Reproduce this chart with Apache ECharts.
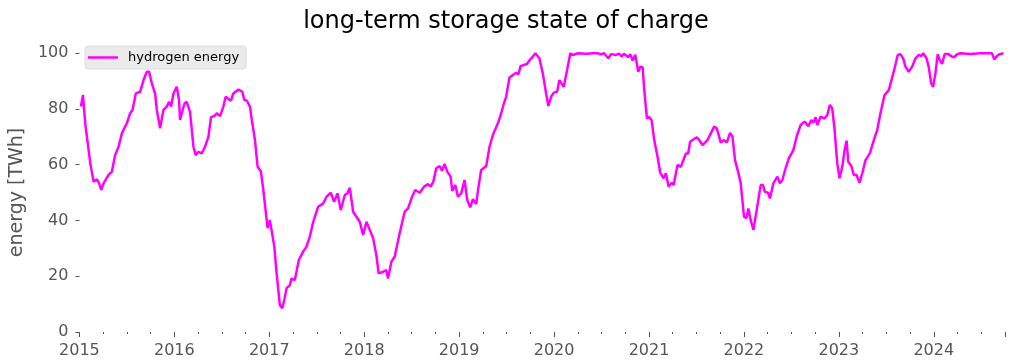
<!DOCTYPE html>
<html>
<head>
<meta charset="utf-8">
<script src="https://cdn.jsdelivr.net/npm/echarts@6/dist/echarts.min.js"></script>
<style>
html,body{margin:0;padding:0;background:#fff;}
#chart{width:1012px;height:364px;}
</style>
</head>
<body>
<div id="chart"></div>
<script>
// time as fractional years
const timeYears = [
2015.016,2015.037,2015.061,2015.114,2015.149,2015.184,2015.208,2015.229,2015.254,2015.307,
2015.342,2015.376,2015.412,2015.447,2015.499,2015.534,2015.559,2015.594,2015.639,2015.675,
2015.710,2015.734,2015.762,2015.797,2015.815,2015.850,2015.885,2015.920,2015.944,2015.965,
2015.991,2016.025,2016.049,2016.060,2016.078,2016.106,2016.130,2016.165,2016.201,2016.225,
2016.253,2016.288,2016.323,2016.359,2016.386,2016.422,2016.446,2016.481,2016.516,2016.540,
2016.561,2016.596,2016.621,2016.674,2016.716,2016.737,2016.764,2016.796,2016.821,2016.849,
2016.877,2016.912,2016.937,2016.961,2016.982,2017.006,2017.024,2017.053,2017.077,2017.111,
2017.137,2017.158,2017.182,2017.217,2017.234,2017.269,2017.311,2017.357,2017.392,2017.427,
2017.463,2017.515,2017.568,2017.603,2017.648,2017.683,2017.718,2017.753,2017.795,2017.823,
2017.848,2017.883,2017.918,2017.953,2017.988,2018.023,2018.058,2018.094,2018.128,2018.152,
2018.199,2018.233,2018.251,2018.286,2018.321,2018.373,2018.426,2018.462,2018.504,2018.538,
2018.584,2018.630,2018.672,2018.699,2018.728,2018.759,2018.794,2018.819,2018.846,2018.875,
2018.910,2018.927,2018.959,2018.987,2019.022,2019.057,2019.085,2019.117,2019.145,2019.180,
2019.204,2019.232,2019.285,2019.320,2019.355,2019.408,2019.443,2019.471,2019.495,2019.530,
2019.566,2019.600,2019.625,2019.646,2019.681,2019.716,2019.730,2019.751,2019.776,2019.803,
2019.845,2019.881,2019.916,2019.940,2019.968,2019.997,2020.032,2020.056,2020.081,2020.102,
2020.137,2020.171,2020.197,2020.252,2020.336,2020.410,2020.459,2020.494,2020.526,2020.571,
2020.599,2020.652,2020.683,2020.712,2020.736,2020.781,2020.802,2020.827,2020.855,2020.873,
2020.886,2020.907,2020.933,2020.950,2020.978,2021.002,2021.027,2021.055,2021.090,2021.118,
2021.153,2021.178,2021.206,2021.241,2021.259,2021.301,2021.335,2021.388,2021.412,2021.433,
2021.459,2021.475,2021.504,2021.528,2021.564,2021.616,2021.651,2021.686,2021.714,2021.756,
2021.791,2021.819,2021.854,2021.879,2021.906,2021.938,2021.966,2022.001,2022.026,2022.047,
2022.071,2022.100,2022.134,2022.177,2022.201,2022.219,2022.253,2022.274,2022.310,2022.352,
2022.379,2022.405,2022.439,2022.474,2022.520,2022.555,2022.597,2022.639,2022.678,2022.710,
2022.731,2022.755,2022.773,2022.808,2022.850,2022.878,2022.905,2022.930,2022.955,2022.983,
2023.007,2023.036,2023.060,2023.081,2023.099,2023.131,2023.158,2023.186,2023.218,2023.246,
2023.281,2023.326,2023.368,2023.404,2023.438,2023.481,2023.526,2023.578,2023.620,2023.649,
2023.677,2023.701,2023.736,2023.772,2023.807,2023.842,2023.867,2023.888,2023.923,2023.946,
2023.972,2023.993,2024.017,2024.041,2024.062,2024.087,2024.115,2024.153,2024.192,2024.216,
2024.245,2024.280,2024.385,2024.490,2024.613,2024.637,2024.666,2024.693,2024.735
];
const hydrogenEnergy = [
80.8,85.0,74.8,60.5,53.9,54.7,53.3,50.9,53.3,56.3,
57.5,63.4,66.4,71.2,74.8,78.4,79.6,85.5,86.1,90.3,
93.3,93.3,89.1,85.5,79.6,73.0,79.6,80.8,82.5,80.8,
85.5,87.9,83.2,76.0,75.4,81.9,82.5,78.9,66.4,63.4,
64.6,64.0,66.4,70.0,77.0,77.4,78.4,77.4,80.8,84.3,
84.9,82.9,85.5,86.9,86.1,83.2,82.9,80.8,74.8,68.8,
59.2,57.5,50.9,43.7,37.2,40.1,39.5,30.6,21.0,9.7,
8.5,11.5,15.7,16.8,19.2,18.6,25.8,28.8,30.6,34.2,
39.5,44.9,46.1,48.5,49.9,46.7,49.7,43.7,49.1,49.7,
51.7,43.1,41.3,39.5,34.8,39.5,36.6,33.6,27.5,21.0,
21.6,22.2,19.2,25.2,27.0,35.4,43.1,44.3,48.5,50.9,
49.9,52.1,53.0,52.1,53.9,58.7,59.5,57.8,60.2,57.5,
55.7,50.6,52.7,48.5,49.7,54.5,47.3,44.7,47.6,45.9,
52.1,58.1,59.5,66.4,70.6,74.8,78.4,81.9,84.3,91.2,
92.1,92.9,92.4,95.3,95.7,96.1,96.9,96.9,98.7,99.9,
98.1,92.7,85.5,81.0,84.3,85.8,86.1,90.3,88.9,87.9,
93.9,99.9,99.3,99.9,99.7,99.9,99.9,99.5,99.9,98.1,
99.6,99.3,99.8,98.8,99.7,98.5,99.6,97.3,99.4,99.5,
93.3,95.1,94.9,86.7,76.6,77.0,76.0,68.8,62.8,57.1,
55.1,56.9,52.1,53.5,52.7,59.9,59.2,64.0,64.0,68.2,
68.8,68.2,69.8,68.8,67.0,68.8,71.2,73.6,73.0,67.9,
68.8,67.9,71.4,70.0,61.6,57.5,53.3,41.3,40.8,44.3,
40.1,36.6,43.7,52.7,52.7,50.3,49.9,47.9,53.3,55.7,
53.3,54.5,58.7,62.3,65.2,70.0,74.2,75.4,73.8,76.0,
75.0,77.0,74.2,77.2,76.5,77.8,81.4,80.2,72.4,60.5,
55.1,59.2,65.2,68.6,61.0,59.5,56.3,56.3,53.5,56.9,
61.6,64.0,68.8,72.4,78.4,84.9,86.7,93.3,99.3,99.6,
98.1,95.1,93.3,95.1,98.1,99.3,98.9,99.9,98.1,95.1,
89.1,87.9,92.7,99.6,97.5,96.1,99.6,99.6,98.7,98.5,
99.6,99.9,99.6,99.9,99.9,97.7,98.9,99.6,99.9
];
const yTickValues = [0, 20, 40, 60, 80, 100];
const xTickYears = [2015, 2016, 2017, 2018, 2019, 2020, 2021, 2022, 2023, 2024];

const seriesData = timeYears.map((t, i) => [t, hydrogenEnergy[i]]);
const gray = '#555555';

const chart = echarts.init(document.getElementById('chart'), null, {renderer: 'canvas'});
chart.setOption({
  backgroundColor: '#ffffff',
  animation: false,
  title: {
    text: 'long-term storage state of charge',
    left: 'center',
    top: 5,
    textStyle: {fontFamily: 'DejaVu Sans', fontSize: 24, fontWeight: 'normal', color: '#000'}
  },
  legend: {
    left: 85,
    top: 46,
    padding: [5, 7, 5, 3],
    backgroundColor: '#ebebeb',
    borderColor: '#dcdcdc',
    borderWidth: 1,
    borderRadius: 3,
    itemWidth: 30,
    itemHeight: 12,
    textStyle: {fontFamily: 'DejaVu Sans', fontSize: 13, color: '#000', padding: [0, 0, 0, 5]},
    data: [{name: 'hydrogen energy', icon: 'path://M0,0 L30,0 L30,2.5 L0,2.5 Z'}]
  },
  grid: {left: 77, right: 7, top: 53, bottom: 32, containLabel: false},
  xAxis: {
    type: 'value',
    min: 2015,
    max: 2024.75,
    interval: 1,
    axisLine: {show: false},
    axisTick: {show: true, length: 5, lineStyle: {color: gray, width: 1}},
    minorTick: {show: true, splitNumber: 4, length: 2, lineStyle: {color: gray, width: 1}},
    splitLine: {show: false},
    axisLabel: {
      color: gray, fontFamily: 'DejaVu Sans', fontSize: 16, margin: 11,
      showMaxLabel: false,
      formatter: v => (xTickYears.indexOf(Math.round(v)) >= 0 && Math.abs(v - Math.round(v)) < 1e-6) ? String(Math.round(v)) : ''
    }
  },
  yAxis: {
    type: 'value',
    min: 0,
    max: 100,
    interval: 20,
    name: 'energy [TWh]',
    nameLocation: 'middle',
    nameGap: 49,
    nameTextStyle: {color: gray, fontFamily: 'DejaVu Sans', fontSize: 19},
    axisLine: {show: false},
    axisTick: {show: true, length: 4, lineStyle: {color: gray, width: 1}},
    splitLine: {show: false},
    axisLabel: {
      color: gray, fontFamily: 'DejaVu Sans', fontSize: 16, margin: 11,
      formatter: v => yTickValues.indexOf(v) >= 0 ? String(v) : ''
    }
  },
  series: [{
    name: 'hydrogen energy',
    type: 'line',
    data: seriesData,
    showSymbol: false,
    symbol: 'none',
    lineStyle: {color: '#ff00ff', width: 2.5},
    itemStyle: {color: '#ff00ff'},
    clip: false
  }]
});
</script>
</body>
</html>
